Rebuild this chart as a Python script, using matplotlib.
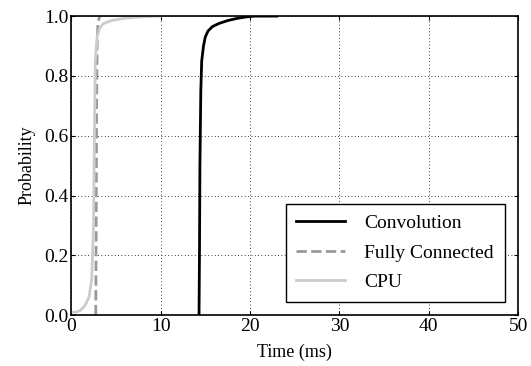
import matplotlib
matplotlib.use("Agg")
import matplotlib.pyplot as plt

plt.rcParams['font.family'] = ['Liberation Serif', 'DejaVu Serif']
plt.rcParams['mathtext.fontset'] = 'stix'

# CDF points (time in ms, cumulative probability)
conv_t = [14.3, 14.35, 14.4, 14.5, 14.6, 14.8, 15.0, 15.3, 15.8, 16.5, 17.5, 18.5, 19.5, 20.5, 23.0]
conv_p = [0.0, 0.2, 0.5, 0.75, 0.85, 0.90, 0.93, 0.95, 0.965, 0.975, 0.985, 0.992, 0.997, 1.0, 1.0]

fc_t = [2.75, 2.8, 2.85, 2.9, 3.0, 3.2]
fc_p = [0.0, 0.3, 0.7, 0.9, 0.98, 1.0]

cpu_t = [0.0, 0.5, 1.0, 1.5, 2.0, 2.3, 2.5, 2.6, 2.7, 2.9, 3.2, 3.6, 4.5, 6.0, 8.0, 10.0]
cpu_p = [0.01, 0.01, 0.015, 0.03, 0.06, 0.12, 0.3, 0.6, 0.85, 0.93, 0.96, 0.975, 0.985, 0.993, 0.998, 1.0]

fig = plt.figure(figsize=(5.31, 3.66), dpi=100)
ax = fig.add_axes([0.134, 0.139, 0.842, 0.817])

ax.plot(conv_t, conv_p, color='black', lw=2, label='Convolution')
ax.plot(fc_t, fc_p, color='#999999', lw=2, ls='--', label='Fully Connected')
ax.plot(cpu_t, cpu_p, color='#cccccc', lw=2, label='CPU')

ax.set_xlim(0, 50)
ax.set_ylim(0, 1.0)
ax.set_xticks([0, 10, 20, 30, 40, 50])
ax.set_yticks([0.0, 0.2, 0.4, 0.6, 0.8, 1.0])
ax.set_yticklabels(['0.0', '0.2', '0.4', '0.6', '0.8', '1.0'])
ax.tick_params(direction='in', top=True, right=True, labelsize=14, length=3, pad=2)
ax.grid(True, color='black', ls=(0, (1, 3)), lw=0.6)
ax.set_xlabel('Time (ms)', fontsize=13, labelpad=6)
ax.set_ylabel('Probability', fontsize=13, labelpad=6)
for s in ax.spines.values():
    s.set_linewidth(1.2)

leg = ax.legend(loc='lower right', fontsize=14, fancybox=False, framealpha=1,
                edgecolor='black', handlelength=2.5, handletextpad=1.0,
                borderpad=0.55, labelspacing=0.6, borderaxespad=0.7)
leg.get_frame().set_linewidth(1.0)

fig.savefig('out.png', dpi=100)
